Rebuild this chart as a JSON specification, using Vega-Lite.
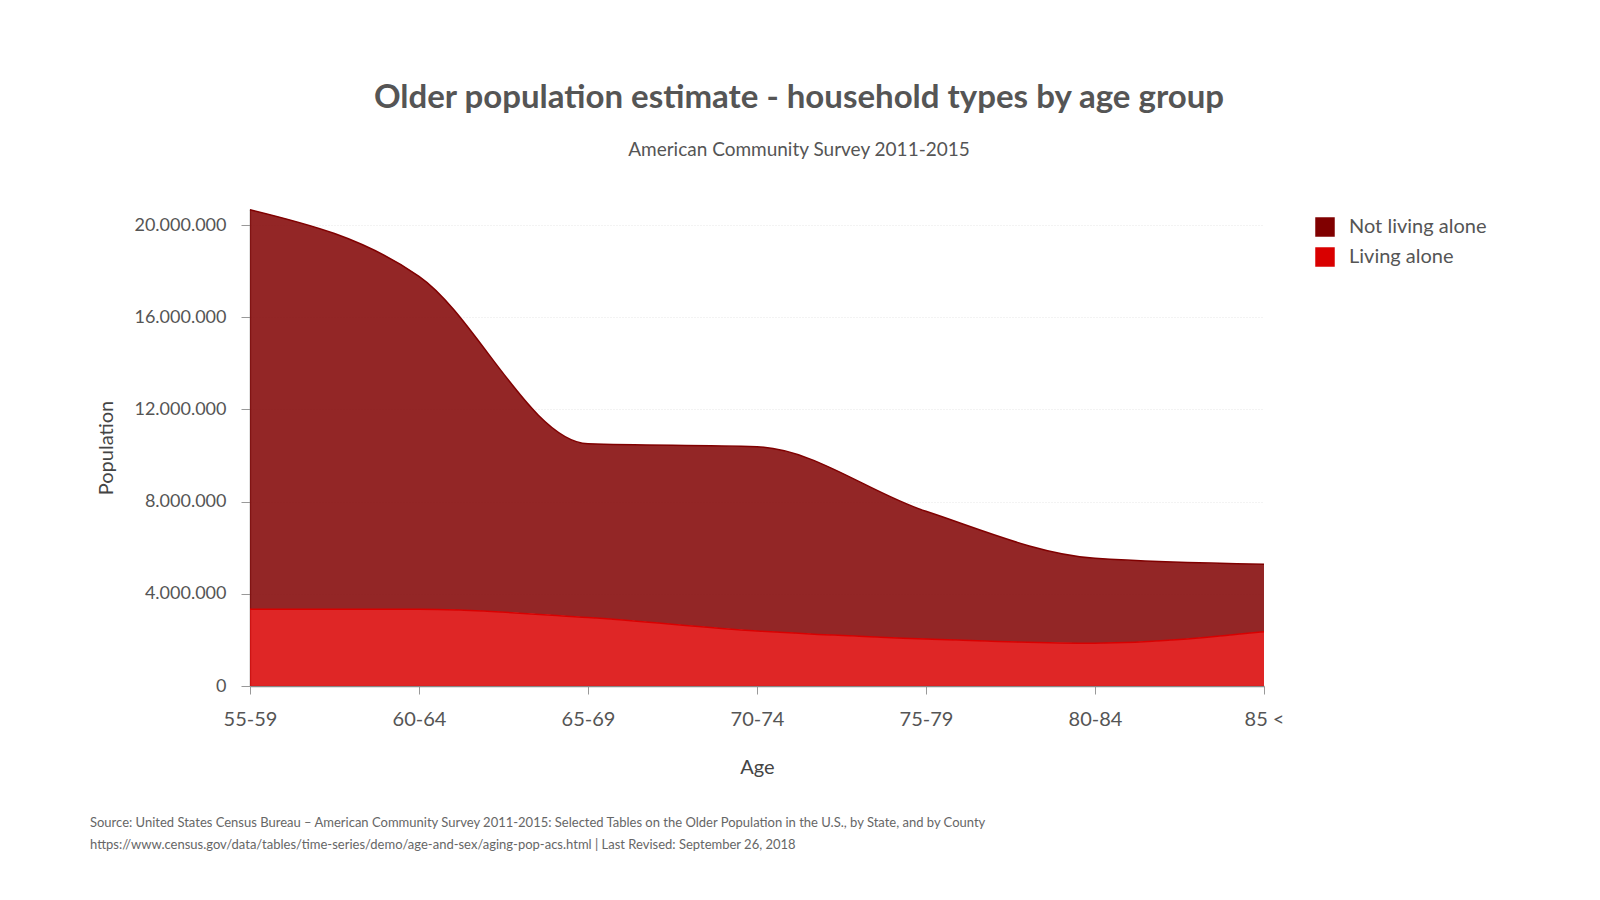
{
  "$schema": "https://vega.github.io/schema/vega-lite/v6.json",
  "background": "white",
  "padding": {"left": 89, "top": 81, "right": 10, "bottom": 10},
  "config": {
    "font": "Lato",
    "locale": {"number": {"decimal": ",", "thousands": ".", "grouping": [3], "currency": ["", ""]}},
    "view": {"stroke": null}
  },
  "title": {
    "text": "Older population estimate - household types by age group",
    "subtitle": "American Community Survey 2011-2015",
    "anchor": "middle",
    "frame": "group",
    "dx": 42,
    "fontSize": 33,
    "fontWeight": "bold",
    "color": "#555555",
    "subtitleFontSize": 19,
    "subtitleColor": "#555555",
    "subtitleFont": "Lato",
    "subtitlePadding": 26,
    "offset": 47
  },
  "vconcat": [
    {
      "width": 1014,
      "height": 477,
      "title": {
        "text": [
          "Source: United States Census Bureau – American Community Survey 2011-2015: Selected Tables on the Older Population in the U.S., by State, and by County",
          "https://www.census.gov/data/tables/time-series/demo/age-and-sex/aging-pop-acs.html  | Last Revised: September 26, 2018"
        ],
        "orient": "bottom",
        "anchor": "start",
        "frame": "bounds",
        "dx": -7,
        "fontSize": 13,
        "fontWeight": "normal",
        "color": "#666666",
        "lineHeight": 22,
        "offset": 40
      },
      "data": {
        "values": [
          {"age": "55-59", "household": "Not living alone", "population": 17340000},
          {"age": "60-64", "household": "Not living alone", "population": 14450000},
          {"age": "65-69", "household": "Not living alone", "population": 7540000},
          {"age": "70-74", "household": "Not living alone", "population": 7990000},
          {"age": "75-79", "household": "Not living alone", "population": 5540000},
          {"age": "80-84", "household": "Not living alone", "population": 3680000},
          {"age": "85 <", "household": "Not living alone", "population": 2930000},
          {"age": "55-59", "household": "Living alone", "population": 3330000},
          {"age": "60-64", "household": "Living alone", "population": 3330000},
          {"age": "65-69", "household": "Living alone", "population": 2970000},
          {"age": "70-74", "household": "Living alone", "population": 2390000},
          {"age": "75-79", "household": "Living alone", "population": 2040000},
          {"age": "80-84", "household": "Living alone", "population": 1860000},
          {"age": "85 <", "household": "Living alone", "population": 2350000}
        ]
      },
      "mark": {"type": "area", "interpolate": "monotone", "fillOpacity": 0.85, "line": {"strokeWidth": 1.5}},
      "encoding": {
        "x": {
          "field": "age",
          "type": "ordinal",
          "sort": ["55-59", "60-64", "65-69", "70-74", "75-79", "80-84", "85 <"],
          "scale": {"type": "point", "padding": 0},
          "axis": {
            "title": "Age",
            "titleFontSize": 20,
            "titleFontWeight": "normal",
            "titleColor": "#444444",
            "titlePadding": 28,
            "labelFontSize": 20,
            "labelColor": "#555555",
            "labelAngle": 0,
            "labelPadding": 15,
            "tickSize": 8,
            "tickColor": "#999999",
            "domainColor": "#888888",
            "domainWidth": 1.5,
            "grid": false
          }
        },
        "y": {
          "field": "population",
          "type": "quantitative",
          "stack": "zero",
          "scale": {"domain": [0, 20700000], "nice": false},
          "axis": {
            "title": "Population",
            "titleFontSize": 20,
            "titleFontWeight": "normal",
            "titleColor": "#444444",
            "titlePadding": 17,
            "values": [0, 4000000, 8000000, 12000000, 16000000, 20000000],
            "format": ",d",
            "labelFontSize": 18,
            "labelColor": "#555555",
            "labelPadding": 15,
            "tickSize": 9,
            "tickColor": "#999999",
            "domainColor": "#888888",
            "domainWidth": 1.5,
            "grid": true,
            "gridColor": "#e6e6e6",
            "gridDash": [1, 2]
          }
        },
        "color": {
          "field": "household",
          "type": "nominal",
          "scale": {"domain": ["Not living alone", "Living alone"], "range": ["#800000", "#d90000"]},
          "legend": {
            "title": null,
            "orient": "right",
            "offset": 23,
            "padding": 8,
            "symbolType": "square",
            "symbolSize": 380,
            "symbolOpacity": 1,
            "symbolStrokeWidth": 0,
            "labelFontSize": 20,
            "labelColor": "#555555",
            "labelOffset": 14,
            "rowPadding": 10
          }
        },
        "order": {"field": "household", "sort": "ascending"}
      }
    }
  ]
}
